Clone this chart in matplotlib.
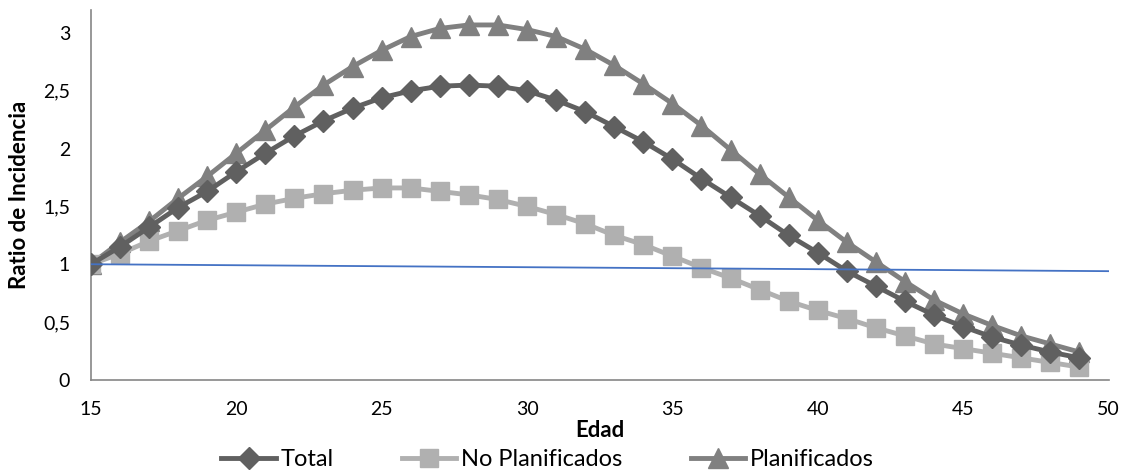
import matplotlib.pyplot as plt
from matplotlib.ticker import FuncFormatter

edad = list(range(15, 50))

total = [1.00, 1.15, 1.32, 1.49, 1.63, 1.80, 1.96, 2.11, 2.24, 2.35,
         2.44, 2.50, 2.54, 2.55, 2.54, 2.50, 2.42, 2.32, 2.19, 2.06,
         1.91, 1.74, 1.58, 1.42, 1.25, 1.10, 0.94, 0.81, 0.68, 0.56,
         0.46, 0.37, 0.30, 0.24, 0.19]

no_planificados = [1.00, 1.09, 1.20, 1.29, 1.38, 1.45, 1.52, 1.57, 1.61, 1.64,
                   1.66, 1.66, 1.63, 1.60, 1.56, 1.50, 1.43, 1.35, 1.25, 1.17,
                   1.07, 0.97, 0.88, 0.78, 0.68, 0.60, 0.53, 0.45, 0.38, 0.31,
                   0.27, 0.23, 0.19, 0.15, 0.11]

planificados = [1.00, 1.19, 1.37, 1.57, 1.76, 1.96, 2.16, 2.36, 2.55, 2.71,
                2.85, 2.97, 3.04, 3.07, 3.07, 3.03, 2.97, 2.86, 2.72, 2.56,
                2.39, 2.20, 1.99, 1.78, 1.58, 1.38, 1.19, 1.02, 0.85, 0.69,
                0.57, 0.47, 0.38, 0.31, 0.24]

ref_x = [15, 50]
ref_y = [1.00, 0.94]

plt.rcParams['font.family'] = ['Lato', 'DejaVu Sans']

fig = plt.figure(figsize=(11.22, 4.73), dpi=100)
ax = fig.add_axes([0.081, 0.197, 0.907, 0.782])

ax.plot(edad, total, color='#606060', lw=3.5, marker='D', ms=11,
        label='Total', zorder=4)
ax.plot(edad, no_planificados, color='#B0B0B0', lw=3.5, marker='s', ms=13,
        label='No Planificados', zorder=3)
ax.plot(edad, planificados, color='#808080', lw=3.5, marker='^', ms=14,
        label='Planificados', zorder=2)
ax.plot(ref_x, ref_y, color='#4472C4', lw=1.3, zorder=5)

ax.set_xlim(15, 50)
ax.set_ylim(0, 3.2)
ax.set_xticks(range(15, 51, 5))
ax.set_yticks([0, 0.5, 1, 1.5, 2, 2.5, 3])
ax.yaxis.set_major_formatter(FuncFormatter(lambda v, p: f'{v:g}'.replace('.', ',')))
ax.tick_params(length=0, labelsize=14)
ax.tick_params(axis='x', pad=15)
ax.tick_params(axis='y', pad=15)

for s in ['top', 'right']:
    ax.spines[s].set_visible(False)
for s in ['left', 'bottom']:
    ax.spines[s].set_color('#868686')
    ax.spines[s].set_linewidth(1.2)

ax.set_xlabel('Edad', fontsize=16, fontweight='bold', labelpad=2)
ax.set_ylabel('Ratio de Incidencia', fontsize=16, fontweight='bold')
ax.yaxis.set_label_coords(-0.060, 0.5)

ax.legend(loc='center', bbox_to_anchor=(0.488, 0.028),
          bbox_transform=fig.transFigure, ncol=3,
          frameon=False, fontsize=17, handlelength=2.3, columnspacing=2.9,
          handletextpad=0.2, borderaxespad=0, borderpad=0)

fig.savefig('out.png', dpi=100)
